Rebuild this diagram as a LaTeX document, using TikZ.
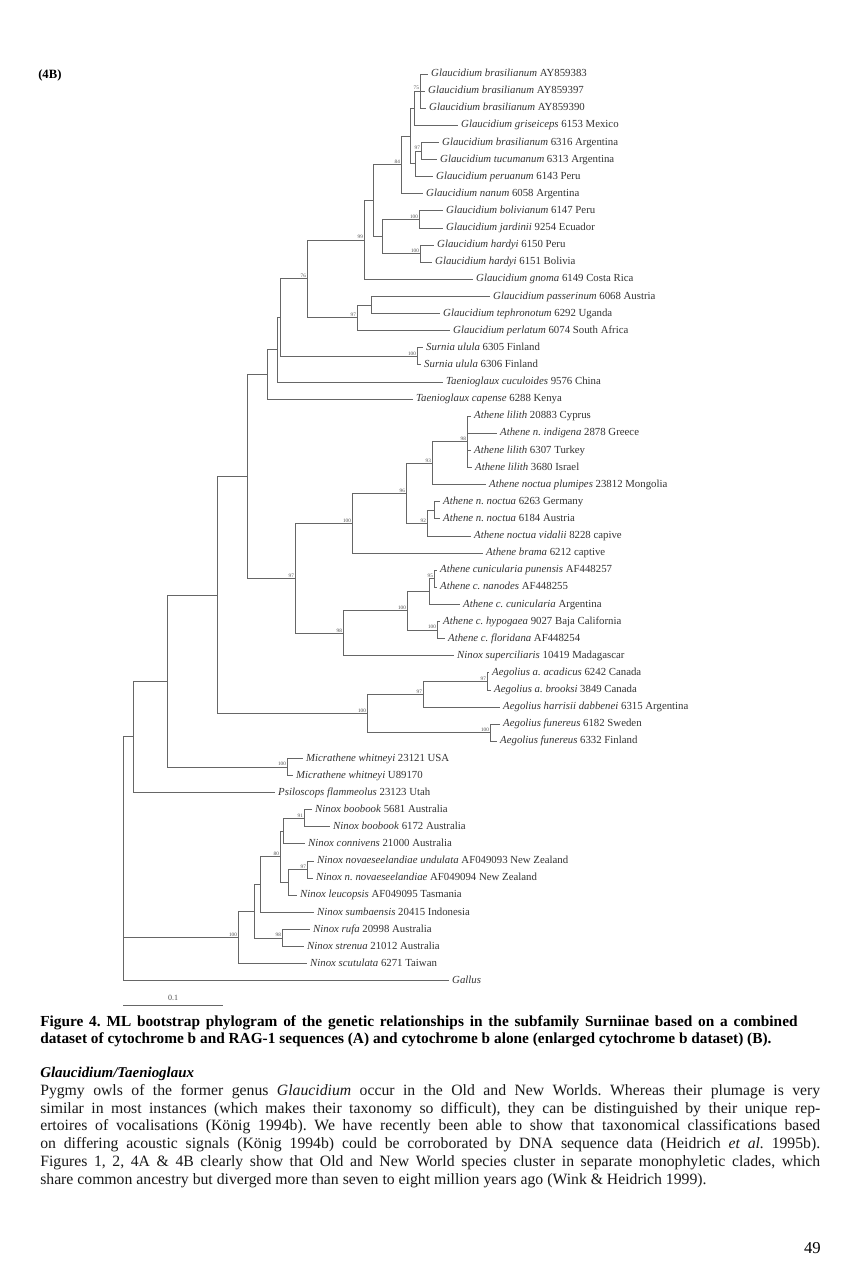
\documentclass[tikz,border=0pt]{standalone}
\usepackage{fontspec}
\setmainfont{Liberation Serif}
\frenchspacing
\begin{document}
\begin{tikzpicture}[x=0.75pt, y=-0.75pt,
	branch/.style={draw=black!60, line width=0.65pt},
	leaf/.style={anchor=west, inner xsep=2.2pt, inner ysep=0pt, text=black!80, font=\fontsize{8.1}{9}\selectfont, text height=5.5pt, text depth=1.5pt},
	boot/.style={anchor=south east, inner sep=0.6pt, text=black!70, font=\fontsize{3.9}{4}\selectfont},
	]
	\useasboundingbox (0,0) rectangle (865,1280);

	\node[anchor=west, inner sep=0pt, font=\bfseries\fontsize{9.5}{11}\selectfont] (panel) at (38,75) {(4B)};

	\node[leaf] (l_1) at (428,74.0) {\textit{Glaucidium brasilianum} AY859383};
	\node[leaf] (l_2) at (425,91.1) {\textit{Glaucidium brasilianum} AY859397};
	\node[leaf] (l_3) at (426,108.2) {\textit{Glaucidium brasilianum} AY859390};
	\node[leaf] (l_4) at (458,125.3) {\textit{Glaucidium griseiceps} 6153 Mexico};
	\node[leaf] (l_5) at (439,142.4) {\textit{Glaucidium brasilianum} 6316 Argentina};
	\node[leaf] (l_6) at (437,159.6) {\textit{Glaucidium tucumanum} 6313 Argentina};
	\node[leaf] (l_7) at (433,176.7) {\textit{Glaucidium peruanum} 6143 Peru};
	\node[leaf] (l_8) at (423,193.8) {\textit{Glaucidium nanum} 6058 Argentina};
	\node[leaf] (l_9) at (443,210.9) {\textit{Glaucidium bolivianum} 6147 Peru};
	\node[leaf] (l_10) at (443,228.0) {\textit{Glaucidium jardinii} 9254 Ecuador};
	\node[leaf] (l_11) at (434,245.1) {\textit{Glaucidium hardyi} 6150 Peru};
	\node[leaf] (l_12) at (432,262.2) {\textit{Glaucidium hardyi} 6151 Bolivia};
	\node[leaf] (l_13) at (473,279.3) {\textit{Glaucidium gnoma} 6149 Costa Rica};
	\node[leaf] (l_14) at (490,296.4) {\textit{Glaucidium passerinum} 6068 Austria};
	\node[leaf] (l_15) at (440,313.5) {\textit{Glaucidium tephronotum} 6292 Uganda};
	\node[leaf] (l_16) at (450,330.7) {\textit{Glaucidium perlatum} 6074 South Africa};
	\node[leaf] (l_17) at (423,347.8) {\textit{Surnia ulula} 6305 Finland};
	\node[leaf] (l_18) at (421,364.9) {\textit{Surnia ulula} 6306 Finland};
	\node[leaf] (l_19) at (443,382.0) {\textit{Taenioglaux cuculoides} 9576 China};
	\node[leaf] (l_20) at (413,399.1) {\textit{Taenioglaux capense} 6288 Kenya};
	\node[leaf] (l_21) at (471,416.2) {\textit{Athene lilith} 20883 Cyprus};
	\node[leaf] (l_22) at (497,433.3) {\textit{Athene n. indigena} 2878 Greece};
	\node[leaf] (l_23) at (471,450.4) {\textit{Athene lilith} 6307 Turkey};
	\node[leaf] (l_24) at (472,467.5) {\textit{Athene lilith} 3680 Israel};
	\node[leaf] (l_25) at (486,484.6) {\textit{Athene noctua plumipes} 23812 Mongolia};
	\node[leaf] (l_26) at (440,501.8) {\textit{Athene n. noctua} 6263 Germany};
	\node[leaf] (l_27) at (440,518.9) {\textit{Athene n. noctua} 6184 Austria};
	\node[leaf] (l_28) at (471,536.0) {\textit{Athene noctua vidalii} 8228 capive};
	\node[leaf] (l_29) at (483,553.1) {\textit{Athene brama} 6212 captive};
	\node[leaf] (l_30) at (437,570.2) {\textit{Athene cunicularia punensis} AF448257};
	\node[leaf] (l_31) at (437,587.3) {\textit{Athene c. nanodes} AF448255};
	\node[leaf] (l_32) at (460,604.4) {\textit{Athene c. cunicularia} Argentina};
	\node[leaf] (l_33) at (440,621.5) {\textit{Athene c. hypogaea} 9027 Baja California};
	\node[leaf] (l_34) at (445,638.6) {\textit{Athene c. floridana} AF448254};
	\node[leaf] (l_35) at (454,655.7) {\textit{Ninox superciliaris} 10419 Madagascar};
	\node[leaf] (l_36) at (489,672.8) {\textit{Aegolius a. acadicus} 6242 Canada};
	\node[leaf] (l_37) at (491,690.0) {\textit{Aegolius a. brooksi} 3849 Canada};
	\node[leaf] (l_38) at (500,707.1) {\textit{Aegolius harrisii dabbenei} 6315 Argentina};
	\node[leaf] (l_39) at (500,724.2) {\textit{Aegolius funereus} 6182 Sweden};
	\node[leaf] (l_40) at (497,741.3) {\textit{Aegolius funereus} 6332 Finland};
	\node[leaf] (l_41) at (303,758.4) {\textit{Micrathene whitneyi} 23121 USA};
	\node[leaf] (l_42) at (293,775.5) {\textit{Micrathene whitneyi} U89170};
	\node[leaf] (l_43) at (275,792.6) {\textit{Psiloscops flammeolus} 23123 Utah};
	\node[leaf] (l_44) at (312,809.7) {\textit{Ninox boobook} 5681 Australia};
	\node[leaf] (l_45) at (330,826.8) {\textit{Ninox boobook} 6172 Australia};
	\node[leaf] (l_46) at (305,843.9) {\textit{Ninox connivens} 21000 Australia};
	\node[leaf] (l_47) at (314,861.0) {\textit{Ninox novaeseelandiae undulata} AF049093 New Zealand};
	\node[leaf] (l_48) at (313,878.2) {\textit{Ninox n. novaeseelandiae} AF049094 New Zealand};
	\node[leaf] (l_49) at (297,895.3) {\textit{Ninox leucopsis} AF049095 Tasmania};
	\node[leaf] (l_50) at (314,912.4) {\textit{Ninox sumbaensis} 20415 Indonesia};
	\node[leaf] (l_51) at (310,929.5) {\textit{Ninox rufa} 20998 Australia};
	\node[leaf] (l_52) at (304,946.6) {\textit{Ninox strenua} 21012 Australia};
	\node[leaf] (l_53) at (307,963.7) {\textit{Ninox scutulata} 6271 Taiwan};
	\node[leaf] (l_54) at (449,980.8) {\textit{Gallus}};

	\coordinate (n_b75) at (420,91.1);
	\coordinate (n_bgri) at (414,108.2);
	\coordinate (n_b97) at (421,151.0);
	\coordinate (n_bper) at (415,163.9);
	\coordinate (n_bA) at (410,136.0);
	\coordinate (n_b84) at (401,164.9);
	\coordinate (n_b100a) at (419,219.5);
	\coordinate (n_b100b) at (420,253.7);
	\coordinate (n_bSA) at (382,236.6);
	\coordinate (n_bC) at (373,200.8);
	\coordinate (n_b99) at (364,240.0);
	\coordinate (n_bpas) at (371,305.0);
	\coordinate (n_b97b) at (357,317.8);
	\coordinate (n_b76) at (307,278.9);
	\coordinate (n_bsur) at (417,356.3);
	\coordinate (n_bsg) at (280,317.6);
	\coordinate (n_bsgt) at (277,349.8);
	\coordinate (n_btae) at (267,374.5);
	\coordinate (n_a98) at (467,441.9);
	\coordinate (n_a93) at (432,463.2);
	\coordinate (n_anA) at (434,510.3);
	\coordinate (n_a92) at (427,523.2);
	\coordinate (n_a96) at (406,493.2);
	\coordinate (n_a100) at (352,523.2);
	\coordinate (n_c95) at (434,578.8);
	\coordinate (n_cc) at (429,591.6);
	\coordinate (n_c100b) at (437,630.0);
	\coordinate (n_c100) at (407,610.8);
	\coordinate (n_c98) at (343,633.3);
	\coordinate (n_a97) at (295,578.3);
	\coordinate (n_gA) at (247,476.4);
	\coordinate (n_e97a) at (487,681.4);
	\coordinate (n_e97) at (423,694.3);
	\coordinate (n_e100b) at (490,732.8);
	\coordinate (n_e100) at (367,713.5);
	\coordinate (n_gB) at (217,595.0);
	\coordinate (n_m100) at (287,767.0);
	\coordinate (n_gC) at (167,681.0);
	\coordinate (n_gD) at (133,736.8);
	\coordinate (n_n91) at (304,818.3);
	\coordinate (n_nb) at (283,831.1);
	\coordinate (n_n97) at (307,869.6);
	\coordinate (n_nz) at (288,882.4);
	\coordinate (n_nq) at (280,856.8);
	\coordinate (n_nr) at (260,884.6);
	\coordinate (n_n98) at (282,938.0);
	\coordinate (n_ns) at (254,911.3);
	\coordinate (n_n100) at (238,937.5);
	\coordinate (n_root) at (123,858.8);

	\draw[branch] (n_b75) |- (l_1.west) (n_b75) |- (l_2.west) (n_b75) |- (l_3.west);
	\draw[branch] (n_bgri) |- (n_b75) (n_bgri) |- (l_4.west);
	\draw[branch] (n_b97) |- (l_5.west) (n_b97) |- (l_6.west);
	\draw[branch] (n_bper) |- (n_b97) (n_bper) |- (l_7.west);
	\draw[branch] (n_bA) |- (n_bgri) (n_bA) |- (n_bper);
	\draw[branch] (n_b84) |- (n_bA) (n_b84) |- (l_8.west);
	\draw[branch] (n_b100a) |- (l_9.west) (n_b100a) |- (l_10.west);
	\draw[branch] (n_b100b) |- (l_11.west) (n_b100b) |- (l_12.west);
	\draw[branch] (n_bSA) |- (n_b100a) (n_bSA) |- (n_b100b);
	\draw[branch] (n_bC) |- (n_b84) (n_bC) |- (n_bSA);
	\draw[branch] (n_b99) |- (n_bC) (n_b99) |- (l_13.west);
	\draw[branch] (n_bpas) |- (l_14.west) (n_bpas) |- (l_15.west);
	\draw[branch] (n_b97b) |- (n_bpas) (n_b97b) |- (l_16.west);
	\draw[branch] (n_b76) |- (n_b99) (n_b76) |- (n_b97b);
	\draw[branch] (n_bsur) |- (l_17.west) (n_bsur) |- (l_18.west);
	\draw[branch] (n_bsg) |- (n_b76) (n_bsg) |- (n_bsur);
	\draw[branch] (n_bsgt) |- (n_bsg) (n_bsgt) |- (l_19.west);
	\draw[branch] (n_btae) |- (n_bsgt) (n_btae) |- (l_20.west);
	\draw[branch] (n_a98) |- (l_21.west) (n_a98) |- (l_22.west) (n_a98) |- (l_23.west) (n_a98) |- (l_24.west);
	\draw[branch] (n_a93) |- (n_a98) (n_a93) |- (l_25.west);
	\draw[branch] (n_anA) |- (l_26.west) (n_anA) |- (l_27.west);
	\draw[branch] (n_a92) |- (n_anA) (n_a92) |- (l_28.west);
	\draw[branch] (n_a96) |- (n_a93) (n_a96) |- (n_a92);
	\draw[branch] (n_a100) |- (n_a96) (n_a100) |- (l_29.west);
	\draw[branch] (n_c95) |- (l_30.west) (n_c95) |- (l_31.west);
	\draw[branch] (n_cc) |- (n_c95) (n_cc) |- (l_32.west);
	\draw[branch] (n_c100b) |- (l_33.west) (n_c100b) |- (l_34.west);
	\draw[branch] (n_c100) |- (n_cc) (n_c100) |- (n_c100b);
	\draw[branch] (n_c98) |- (n_c100) (n_c98) |- (l_35.west);
	\draw[branch] (n_a97) |- (n_a100) (n_a97) |- (n_c98);
	\draw[branch] (n_gA) |- (n_btae) (n_gA) |- (n_a97);
	\draw[branch] (n_e97a) |- (l_36.west) (n_e97a) |- (l_37.west);
	\draw[branch] (n_e97) |- (n_e97a) (n_e97) |- (l_38.west);
	\draw[branch] (n_e100b) |- (l_39.west) (n_e100b) |- (l_40.west);
	\draw[branch] (n_e100) |- (n_e97) (n_e100) |- (n_e100b);
	\draw[branch] (n_gB) |- (n_gA) (n_gB) |- (n_e100);
	\draw[branch] (n_m100) |- (l_41.west) (n_m100) |- (l_42.west);
	\draw[branch] (n_gC) |- (n_gB) (n_gC) |- (n_m100);
	\draw[branch] (n_gD) |- (n_gC) (n_gD) |- (l_43.west);
	\draw[branch] (n_n91) |- (l_44.west) (n_n91) |- (l_45.west);
	\draw[branch] (n_nb) |- (n_n91) (n_nb) |- (l_46.west);
	\draw[branch] (n_n97) |- (l_47.west) (n_n97) |- (l_48.west);
	\draw[branch] (n_nz) |- (n_n97) (n_nz) |- (l_49.west);
	\draw[branch] (n_nq) |- (n_nb) (n_nq) |- (n_nz);
	\draw[branch] (n_nr) |- (n_nq) (n_nr) |- (l_50.west);
	\draw[branch] (n_n98) |- (l_51.west) (n_n98) |- (l_52.west);
	\draw[branch] (n_ns) |- (n_nr) (n_ns) |- (n_n98);
	\draw[branch] (n_n100) |- (n_ns) (n_n100) |- (l_53.west);
	\draw[branch] (n_root) |- (n_gD) (n_root) |- (n_n100) (n_root) |- (l_54.west);

	\node[boot] (t_b75) at (n_b75) {75};
	\node[boot] (t_b97) at (n_b97) {97};
	\node[boot] (t_b84) at (n_b84) {84};
	\node[boot] (t_b100a) at (n_b100a) {100};
	\node[boot] (t_b100b) at (n_b100b) {100};
	\node[boot] (t_b99) at (n_b99) {99};
	\node[boot] (t_b97b) at (n_b97b) {97};
	\node[boot] (t_b76) at (n_b76) {76};
	\node[boot] (t_bsur) at (n_bsur) {100};
	\node[boot] (t_a98) at (n_a98) {98};
	\node[boot] (t_a93) at (n_a93) {93};
	\node[boot] (t_a92) at (n_a92) {92};
	\node[boot] (t_a96) at (n_a96) {96};
	\node[boot] (t_a100) at (n_a100) {100};
	\node[boot] (t_c95) at (n_c95) {95};
	\node[boot] (t_c100b) at (n_c100b) {100};
	\node[boot] (t_c100) at (n_c100) {100};
	\node[boot] (t_c98) at (n_c98) {98};
	\node[boot] (t_a97) at (n_a97) {97};
	\node[boot] (t_e97a) at (n_e97a) {97};
	\node[boot] (t_e97) at (n_e97) {97};
	\node[boot] (t_e100b) at (n_e100b) {100};
	\node[boot] (t_e100) at (n_e100) {100};
	\node[boot] (t_m100) at (n_m100) {100};
	\node[boot] (t_n91) at (n_n91) {91};
	\node[boot] (t_n97) at (n_n97) {97};
	\node[boot] (t_nq) at (n_nq) {80};
	\node[boot] (t_n98) at (n_n98) {98};
	\node[boot] (t_n100) at (n_n100) {100};

	\coordinate (s_a) at (123,1005);
	\coordinate (s_b) at (223,1005);
	\draw[branch] (s_a) -- (s_b);
	\node[inner sep=0pt, text=black!70, font=\fontsize{6}{7}\selectfont] (s_lab) at (173,998) {0.1};

	\node[anchor=north west, inner sep=0pt] (caption) at (40,1015) {\parbox{568pt}{\bfseries\fontsize{11.5}{13.4}\selectfont\spaceskip=0.25em plus 1em minus 0.02em\relax
	Figure 4. ML bootstrap phylogram of the genetic relationships in the subfamily Surniinae based on a combined\linebreak
	dataset of cytochrome b and RAG-1 sequences (A) and cytochrome b alone (enlarged cytochrome b dataset) (B).}};

	\node[anchor=north west, inner sep=0pt, font=\bfseries\itshape\fontsize{11.2}{13}\selectfont] (heading) at (40,1067) {Glaucidium/Taenioglaux};

	\node[anchor=north west, inner sep=0pt, text=black!90] (body) at (40,1084) {\parbox{585pt}{\fontsize{11.8}{13.35}\selectfont\spaceskip=0.25em plus 1em minus 0.02em\relax
	Pygmy owls of the former genus \textit{Glaucidium} occur in the Old and New Worlds. Whereas their plumage is very\linebreak
	similar in most instances (which makes their taxonomy so difficult), they can be distinguished by their unique rep-\linebreak
	ertoires of vocalisations (König 1994b). We have recently been able to show that taxonomical classifications based\linebreak
	on differing acoustic signals (König 1994b) could be corroborated by DNA sequence data (Heidrich \textit{et al.} 1995b).\linebreak
	Figures 1, 2, 4A \& 4B clearly show that Old and New World species cluster in separate monophyletic clades, which\linebreak
	share common ancestry but diverged more than seven to eight million years ago (Wink \& Heidrich 1999).}};

	\node[anchor=east, inner sep=0pt, font=\fontsize{12.5}{14}\selectfont] (page) at (821,1248) {49};
\end{tikzpicture}
\end{document}
